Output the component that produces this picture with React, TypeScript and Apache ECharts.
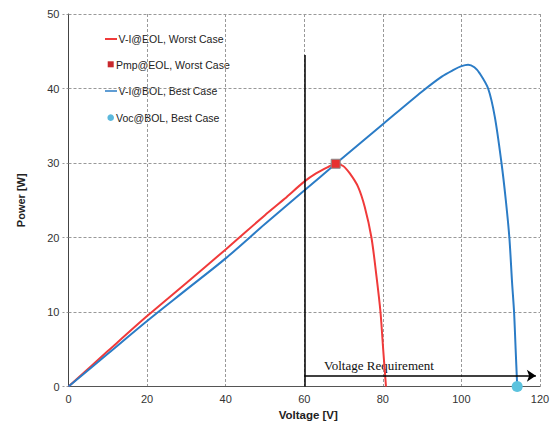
import React, { useEffect, useRef } from "react";
import * as echarts from "echarts";

const xTicks = { min: 0, max: 120, interval: 20 };
const yTicks = { min: 0, max: 50, interval: 10 };

const eolVoltage = [0, 10, 20, 30, 40, 50, 55, 60, 63, 66, 68, 69.9, 71.6, 73.7, 75.4, 77.1, 78.4, 79.4, 80.1, 80.8];
const eolPower = [0, 4.75, 9.45, 13.9, 18.4, 23.0, 25.2, 27.5, 28.6, 29.45, 29.9, 29.6, 28.6, 26.8, 24.1, 20.0, 14.7, 10.0, 4.9, 0];

const bolVoltage = [0, 10, 20, 30, 40, 50, 60, 68, 80, 90, 95, 98, 100, 101.7, 103.3, 104.7, 106.8, 108.5, 110.2, 111.3, 112.2, 112.9, 113.4, 113.8, 114.2];
const bolPower = [0, 4.4, 8.8, 13.0, 17.2, 21.8, 26.3, 29.9, 35.2, 39.6, 41.6, 42.5, 43.0, 43.2, 42.85, 42.0, 40.0, 36.2, 30.0, 25.0, 20.0, 13.9, 10.0, 5.0, 0];

const pmpEol = [68, 29.9];
const vocBol = [114.2, 0];

const requirementV = 60;
const requirementTop = 44.5;
const arrowY = 1.45;
const arrowEnd = 118.95;

const legendNames = ["V-I@EOL, Worst Case", "Pmp@EOL, Worst Case", "V-I@BOL, Best Case", "Voc@BOL, Best Case"];
const annotation = "Voltage Requirement";

const RED = "#f03a3a";
const BLUE = "#2b7cc6";

export default function App() {
  const ref = useRef<HTMLDivElement>(null);
  useEffect(() => {
    if (!ref.current) return;
    const chart = echarts.init(ref.current, undefined, { renderer: "svg" });
    const sans = "Liberation Sans, Arial, sans-serif";
    const legendText = (x: number, y: number, t: string) => ({
      type: "text",
      x,
      y,
      style: { text: t, fontFamily: sans, fontSize: 10.5, fill: "#222", verticalAlign: "middle", align: "left" },
      silent: true,
    });
    chart.setOption({
      animation: false,
      grid: { left: 68.5, top: 14, right: 10, bottom: 36.5, containLabel: false, outerBoundsMode: "none" },
      xAxis: {
        type: "value",
        ...xTicks,
        name: "Voltage [V]",
        nameLocation: "middle",
        nameGap: 22.5,
        nameTextStyle: { fontFamily: sans, fontSize: 11.5, fontWeight: "bold", color: "#222", padding: [0, 0, 0, 8] },
        axisLine: { lineStyle: { color: "#555", width: 1 } },
        axisTick: { show: false },
        axisLabel: { fontFamily: sans, fontSize: 11, color: "#333", margin: 7 },
        splitLine: { show: true, lineStyle: { type: [3, 2], color: "#999", width: 1 } },
      },
      yAxis: {
        type: "value",
        ...yTicks,
        name: "Power [W]",
        nameLocation: "middle",
        nameGap: 42,
        nameTextStyle: { fontFamily: sans, fontSize: 11, fontWeight: "bold", color: "#222" },
        axisLine: { show: true, lineStyle: { color: "#444", width: 1 } },
        axisTick: { show: true, length: 6, lineStyle: { type: [2, 2], color: "#999" } },
        axisLabel: { fontFamily: sans, fontSize: 11, color: "#333", margin: 9 },
        splitLine: { show: true, lineStyle: { type: [3, 2], color: "#999", width: 1 } },
      },
      series: [
        {
          name: legendNames[0],
          type: "line",
          data: eolVoltage.map((v, i) => [v, eolPower[i]]),
          showSymbol: false,
          smooth: 0.3,
          lineStyle: { color: RED, width: 2 },
          silent: true,
          z: 3,
        },
        {
          name: legendNames[2],
          type: "line",
          data: bolVoltage.map((v, i) => [v, bolPower[i]]),
          showSymbol: false,
          smooth: 0.3,
          lineStyle: { color: BLUE, width: 2 },
          silent: true,
          z: 3,
        },
        {
          name: legendNames[1],
          type: "scatter",
          data: [pmpEol],
          symbol: "rect",
          symbolSize: 9,
          itemStyle: { color: "#e8302f", borderColor: "#8a8a8a", borderWidth: 1, opacity: 1 },
          silent: true,
          z: 5,
          markLine: {
            silent: true,
            animation: false,
            label: { show: false },
            data: [
              [
                { coord: [requirementV, 0], symbol: "none" },
                { coord: [requirementV, requirementTop], symbol: "none" },
              ],
              [
                { coord: [requirementV, arrowY], symbol: "none" },
                { coord: [arrowEnd, arrowY], symbol: "arrow", symbolSize: 9 },
              ],
            ],
            lineStyle: { color: "#000", width: 1.5, type: "solid" },
          },
        },
        {
          name: legendNames[3],
          type: "scatter",
          data: [vocBol],
          symbol: "circle",
          symbolSize: 11,
          itemStyle: { color: "#5cc3de", opacity: 1 },
          silent: true,
          z: 6,
        },
      ],
      graphic: [
        { type: "line", shape: { x1: 105, y1: 39, x2: 117, y2: 39 }, style: { stroke: RED, lineWidth: 2 }, silent: true },
        legendText(118.5, 39, legendNames[0]),
        { type: "rect", shape: { x: 107.7, y: 61.3, width: 6, height: 6 }, style: { fill: "#c8282d" }, silent: true },
        legendText(116, 64.5, legendNames[1]),
        { type: "line", shape: { x1: 105, y1: 91, x2: 117, y2: 91 }, style: { stroke: BLUE, lineWidth: 1.5 }, silent: true },
        legendText(118.5, 91, legendNames[2]),
        { type: "circle", shape: { cx: 110.7, cy: 117.7, r: 3.3 }, style: { fill: "#5bb8dc" }, silent: true },
        legendText(116, 117.5, legendNames[3]),
        {
          type: "text",
          x: 324,
          y: 372,
          style: { text: annotation, fontFamily: "Liberation Serif, Times New Roman, serif", fontSize: 13, fill: "#111", verticalAlign: "bottom", align: "left" },
          silent: true,
        },
      ],
    });
    return () => chart.dispose();
  }, []);
  return <div ref={ref} style={{ position: "fixed", left: 0, top: 0, width: 550, height: 423, background: "#fff" }} />;
}
